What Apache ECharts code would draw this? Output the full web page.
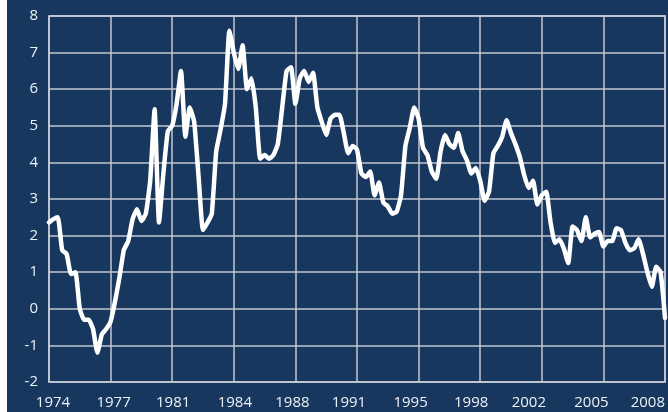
<!DOCTYPE html>
<html>
<head>
<meta charset="utf-8">
<script src="https://cdn.jsdelivr.net/npm/echarts@6/dist/echarts.min.js"></script>
<style>
html,body{margin:0;padding:0;background:#ffffff;}
#wrap{position:absolute;left:7px;top:0;width:661px;height:412px;background:#17375e;}
#chart{position:absolute;left:-7px;top:0;width:668px;height:412px;}
</style>
</head>
<body>
<div id="wrap"><div id="chart"></div></div>
<script>
const tickLabels = ['1974','1977','1981','1984','1988','1991','1995','1998','2002','2005','2008'];
const yTicks = [-2,-1,0,1,2,3,4,5,6,7,8];
const values = [
 2.36,2.45,2.5,1.6,1.5,0.95,1.0,0.0,-0.3,-0.3,
 -0.55,-1.2,-0.7,-0.55,-0.35,0.2,0.85,1.6,1.85,2.45,
 2.72,2.4,2.6,3.5,5.45,2.36,3.7,4.85,5.0,5.6,
 6.5,4.7,5.5,5.1,3.6,2.15,2.35,2.6,4.3,4.9,
 5.6,7.6,7.0,6.55,7.2,6.0,6.3,5.5,4.1,4.2,
 4.1,4.2,4.5,5.5,6.5,6.6,5.6,6.3,6.5,6.2,
 6.45,5.5,5.1,4.75,5.2,5.3,5.3,4.8,4.25,4.45,
 4.35,3.7,3.6,3.75,3.1,3.45,2.9,2.8,2.6,2.65,
 3.1,4.45,4.95,5.5,5.2,4.4,4.2,3.75,3.55,4.3,
 4.75,4.5,4.4,4.8,4.3,4.05,3.7,3.85,3.5,2.95,
 3.2,4.25,4.45,4.7,5.15,4.8,4.5,4.15,3.65,3.3,
 3.5,2.85,3.1,3.2,2.35,1.8,1.9,1.65,1.25,2.25,
 2.15,1.85,2.5,1.95,2.05,2.1,1.7,1.85,1.85,2.2,
 2.15,1.8,1.6,1.65,1.9,1.5,1.0,0.6,1.15,1.0,
 -0.25
];
const step = (values.length - 1) / (tickLabels.length - 1);
const categories = values.map((v, i) => String(i));

// per-label horizontal nudges (px) matching the reference's label placement
const labelShift = [4, 3, 1, 1, -3, -8, -8, -9, -13, -12, 0];
const rich = {};
labelShift.forEach((s, k) => {
  rich['l' + k] = {
    color: '#eef1f5', fontFamily: 'Open Sans', fontSize: 15,
    padding: s >= 0 ? [0, 0, 0, 2 * s] : [0, -2 * s, 0, 0]
  };
});

const chart = echarts.init(document.getElementById('chart'), null, {renderer:'canvas'});
chart.setOption({
  backgroundColor: 'transparent',
  animation: false,
  grid: {left: 49, top: 16, right: 3, bottom: 30, show: true, borderColor: '#e6e9ee', borderWidth: 1.5, containLabel: false},
  xAxis: {
    type: 'category',
    data: categories,
    boundaryGap: false,
    axisLine: {show: false},
    axisTick: {show: false},
    axisLabel: {
      interval: step - 1,
      color: '#eef1f5',
      fontFamily: 'Open Sans',
      fontSize: 15,
      margin: 13,
      alignMaxLabel: 'right',
      rich: rich,
      formatter: (v, i) => {
        const k = Math.round(i / step);
        return '{l' + k + '|' + tickLabels[k] + '}';
      }
    },
    splitLine: {show: true, interval: step - 1, lineStyle: {color: '#c3c9d2', width: 1.5}}
  },
  yAxis: {
    type: 'value',
    min: yTicks[0], max: yTicks[yTicks.length - 1], interval: 1,
    axisLine: {show: false},
    axisTick: {show: false},
    axisLabel: {color: '#eef1f5', fontFamily: 'Open Sans', fontSize: 15, margin: 11, padding: [5, 0, 0, 0]},
    splitLine: {lineStyle: {color: '#c3c9d2', width: 1.5}}
  },
  series: [{
    type: 'line',
    data: values,
    symbol: 'none',
    smooth: 0.15,
    lineStyle: {color: '#ffffff', width: 4.5, join: 'round', cap: 'round'}
  }]
});
</script>
</body>
</html>
